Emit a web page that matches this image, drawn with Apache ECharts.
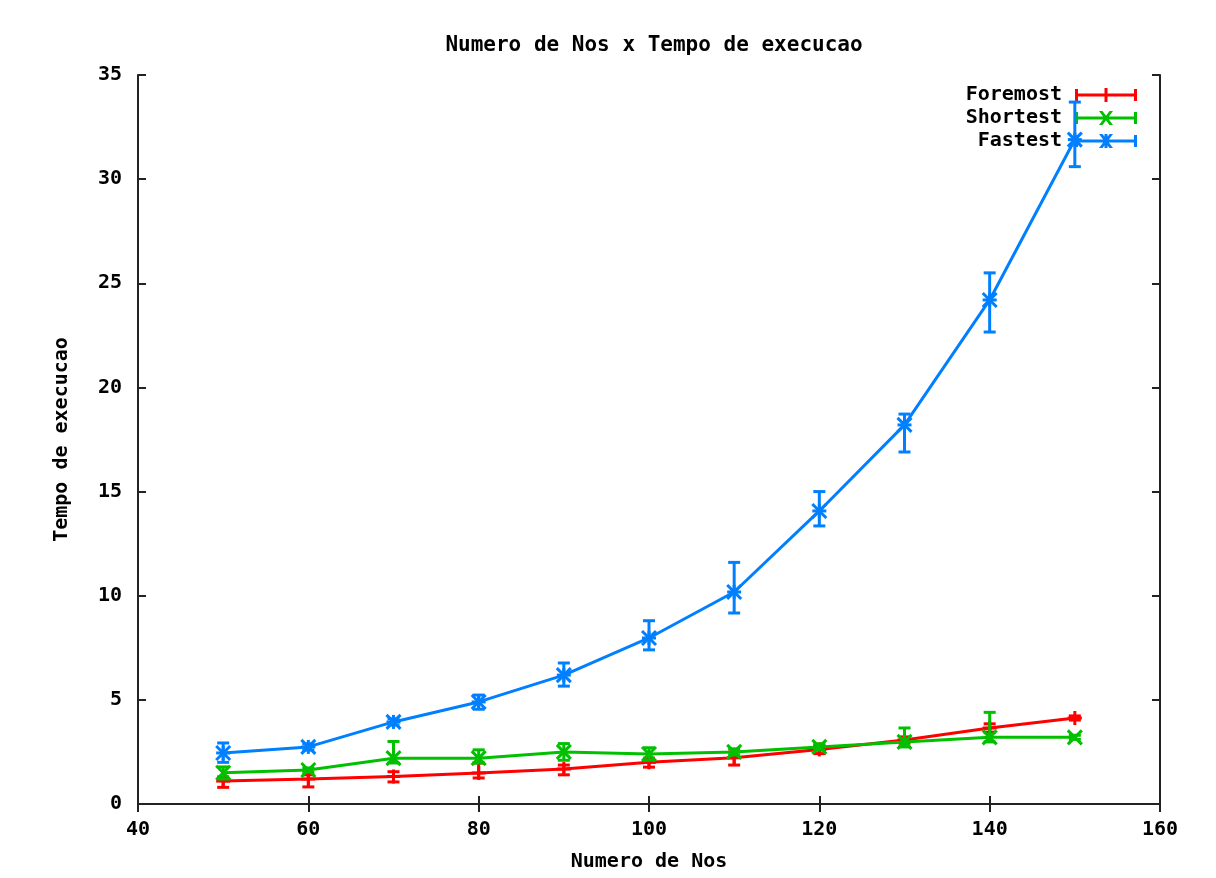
<!DOCTYPE html>
<html>
<head>
<meta charset="utf-8">
<script src="https://cdn.jsdelivr.net/npm/echarts@6/dist/echarts.min.js"></script>
<style>
  html, body { margin: 0; padding: 0; background: #fff; }
  #chart { width: 1216px; height: 878px; }
</style>
</head>
<body>
<div id="chart"></div>
<script>
// numero de nos
const nodes = [50, 60, 70, 80, 90, 100, 110, 120, 130, 140, 150];

// tempo de execucao (media, min, max)
const foremost     = [1.10, 1.20, 1.32, 1.49, 1.68, 2.00, 2.22, 2.62, 3.07, 3.65, 4.13];
const foremostLow  = [0.80, 0.82, 1.06, 1.25, 1.40, 1.77, 1.87, 2.42, 2.92, 3.45, 4.03];
const foremostHigh = [1.30, 1.40, 1.55, 1.97, 1.87, 2.20, 2.50, 2.80, 3.22, 3.85, 4.23];

const shortest     = [1.50, 1.63, 2.20, 2.20, 2.50, 2.40, 2.50, 2.74, 2.98, 3.20, 3.20];
const shortestLow  = [1.20, 1.53, 1.97, 1.97, 2.10, 2.10, 2.35, 2.59, 2.74, 2.98, 3.10];
const shortestHigh = [1.78, 1.73, 3.00, 2.60, 2.90, 2.70, 2.65, 2.89, 3.65, 4.40, 3.30];

const fastest      = [2.45, 2.74, 3.94, 4.90, 6.19, 7.97, 10.18, 14.07, 18.20, 24.20, 31.90];
const fastestLow   = [2.00, 2.59, 3.79, 4.55, 5.66, 7.40, 9.17, 13.35, 16.90, 22.66, 30.60];
const fastestHigh  = [2.93, 2.89, 4.09, 5.23, 6.77, 8.80, 11.60, 15.00, 18.72, 25.50, 33.70];

const xTicks = { min: 40, max: 160, interval: 20 };
const yTicks = { min: 0, max: 35, interval: 5 };

const FONT = '"DejaVu Sans Mono", monospace';
const textStyle = { fontFamily: FONT, fontWeight: 'bold', fontSize: 20, color: '#000' };

// icones da legenda: linha com barras nas pontas e o marcador no meio
const base = 'M0,5.5 H62 V8.5 H0 Z M0,1 H3 V13 H0 Z M59,1 H62 V13 H59 Z ';
const plusP = 'M29.5,0 H32.5 V14 H29.5 Z M24,5.5 H38 V8.5 H24 Z ';
const crossP = 'M24,0 L27.5,0 L38,14 L34.5,14 Z M34.5,0 L38,0 L27.5,14 L24,14 Z ';
const icons = {
  Foremost: 'path://' + base + plusP,
  Shortest: 'path://' + base + crossP,
  Fastest: 'path://' + base + plusP + crossP
};

function rows(mean, low, high) {
  return nodes.map((n, i) => [n, mean[i], low[i], high[i]]);
}

function errorBars(marker, color) {
  return function (params, api) {
    const c = api.coord([api.value(0), api.value(1)]);
    const lo = api.coord([api.value(0), api.value(2)]);
    const hi = api.coord([api.value(0), api.value(3)]);
    const st = { stroke: color, lineWidth: 3, fill: null };
    const w = 6, m = 7;
    const kids = [
      { type: 'line', shape: { x1: c[0], y1: lo[1], x2: c[0], y2: hi[1] }, style: st },
      { type: 'line', shape: { x1: c[0] - w, y1: lo[1], x2: c[0] + w, y2: lo[1] }, style: st },
      { type: 'line', shape: { x1: c[0] - w, y1: hi[1], x2: c[0] + w, y2: hi[1] }, style: st }
    ];
    if (marker === 'plus' || marker === 'star') {
      kids.push({ type: 'line', shape: { x1: c[0] - m, y1: c[1], x2: c[0] + m, y2: c[1] }, style: st });
      kids.push({ type: 'line', shape: { x1: c[0], y1: c[1] - m, x2: c[0], y2: c[1] + m }, style: st });
    }
    if (marker === 'cross' || marker === 'star') {
      kids.push({ type: 'line', shape: { x1: c[0] - m, y1: c[1] - m, x2: c[0] + m, y2: c[1] + m }, style: st });
      kids.push({ type: 'line', shape: { x1: c[0] - m, y1: c[1] + m, x2: c[0] + m, y2: c[1] - m }, style: st });
    }
    return { type: 'group', children: kids };
  };
}

const defs = [
  { name: 'Foremost', color: '#ff0000', marker: 'plus', data: rows(foremost, foremostLow, foremostHigh) },
  { name: 'Shortest', color: '#00c000', marker: 'cross', data: rows(shortest, shortestLow, shortestHigh) },
  { name: 'Fastest', color: '#0080ff', marker: 'star', data: rows(fastest, fastestLow, fastestHigh) }
];

const series = [];
defs.forEach((d, k) => {
  series.push({
    name: d.name,
    type: 'line',
    data: d.data.map(r => [r[0], r[1]]),
    symbol: 'none',
    color: d.color,
    lineStyle: { color: d.color, width: 3 },
    z: 2 + k * 2,
    animation: false
  });
  series.push({
    type: 'custom',
    data: d.data,
    renderItem: errorBars(d.marker, d.color),
    z: 3 + k * 2,
    silent: true,
    animation: false
  });
});

const axisLine = { show: true, lineStyle: { color: '#222', width: 2 } };
const tick = { show: true, inside: true, length: 8, lineStyle: { color: '#222', width: 2 } };

const myChart = echarts.init(document.getElementById('chart'));
myChart.setOption({
  backgroundColor: '#fff',
  animation: false,
  title: {
    text: 'Numero de Nos x Tempo de execucao',
    left: 649,
    textAlign: 'center',
    top: 30,
    textStyle: { ...textStyle, fontSize: 21 }
  },
  legend: {
    data: defs.map(d => ({ name: d.name, icon: icons[d.name] })),
    orient: 'vertical',
    align: 'right',
    right: 79,
    top: 85,
    padding: 0,
    itemWidth: 62,
    itemHeight: 14,
    itemGap: 3,
    selectedMode: false,
    textStyle: { ...textStyle, lineHeight: 20, padding: [0, 8, 0, 0] }
  },
  grid: { left: 138, right: 56, top: 75, bottom: 74 },
  xAxis: [
    {
      type: 'value', ...xTicks, position: 'bottom',
      name: 'Numero de Nos', nameLocation: 'middle', nameGap: 48,
      nameTextStyle: { ...textStyle },
      axisLine, axisTick: tick,
      axisLabel: { ...textStyle, margin: 16 },
      splitLine: { show: false }
    },
    {
      type: 'value', ...xTicks, position: 'top',
      axisLine, axisTick: tick, axisLabel: { show: false }, splitLine: { show: false }
    }
  ],
  yAxis: [
    {
      type: 'value', ...yTicks, position: 'left',
      name: 'Tempo de execucao', nameLocation: 'middle', nameGap: 66, nameRotate: 90,
      nameTextStyle: { ...textStyle },
      axisLine, axisTick: tick,
      axisLabel: { ...textStyle, margin: 16 },
      splitLine: { show: false }
    },
    {
      type: 'value', ...yTicks, position: 'right',
      axisLine, axisTick: tick, axisLabel: { show: false }, splitLine: { show: false }
    }
  ],
  series
});
window.addEventListener('resize', () => {
  myChart.resize();
});
</script>
</body>
</html>
